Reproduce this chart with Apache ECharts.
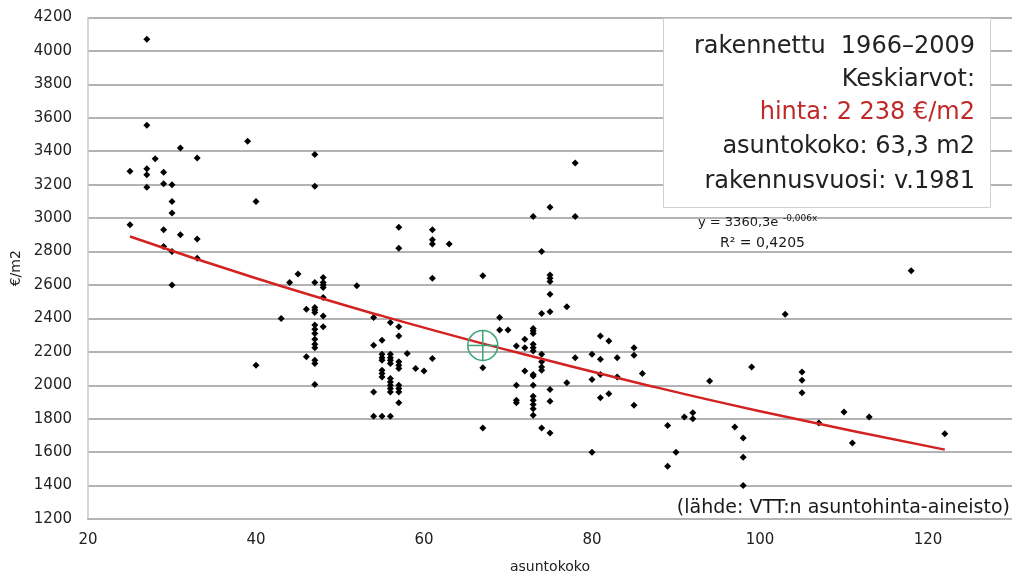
<!DOCTYPE html>
<html>
<head>
<meta charset="utf-8">
<script src="https://cdn.jsdelivr.net/npm/echarts@6/dist/echarts.min.js"></script>
<style>
html,body{margin:0;padding:0;background:#fff;}
#chart{width:1012px;height:579px;}
</style>
</head>
<body>
<div id="chart"></div>
<script>
// Apartment size (m2) and price (€/m2) per observation
const sizes = [
  25,25, 27,27,27,27,27, 28, 29,29,29,29, 30,30,30,30,30, 31,31, 33,33,33, 39, 40,40, 43, 44, 45, 46,46,
  47,47,47,47,47,47,47,47,47,47,47,47,47,47,47,
  48,48,48,48,48,48,48, 52,
  54,54,54,54, 55,55,55,55,55,55,55,55,
  56,56,56,56,56,56,56,56,56,56,56,
  57,57,57,57,57,57,57,57,57,57,57,
  58, 59, 60, 61,61,61,61,61, 63, 67,67,67, 69,69, 70, 71,71,71,71, 72,72,72,
  73,73,73,73,73,73,73,73,73,73,73,73,73,73,73,
  74,74,74,74,74,74,74, 75,75,75,75,75,75,75,75,75, 77,77, 78,78,78, 80,80,80,
  81,81,81,81, 82,82, 83,83, 85,85,85, 86, 89,89, 90, 91, 92,92, 94, 97, 98,98,98, 99,
  103, 105,105,105, 107, 110, 111, 113, 118, 122
];
const prices = [
  3280,2960, 4070,3555,3295,3260,3185, 3355, 3275,3205,2930,2830, 3200,3100,3030,2800,2600, 3420,2900, 3360,2875,2760, 3460, 3100,2120, 2400, 2615, 2665, 2455,2170,
  3380,3190,2615,2465,2450,2435,2360,2335,2310,2275,2245,2225,2150,2130,2005,
  2645,2615,2600,2585,2525,2415,2350, 2595,
  2405,2240,1960,1815, 2270,2185,2165,2150,2090,2070,2050,1815,
  2375,2185,2165,2150,2130,2040,2020,2000,1980,1960,1815,
  2945,2820,2350,2295,2140,2120,2100,2000,1980,1960,1895,
  2190, 2100, 2085, 2930,2870,2845,2640,2160, 2845, 2655,2105,1745, 2405,2330, 2330, 2235,2000,1910,1895, 2275,2225,2085,
  3010,2340,2325,2310,2245,2225,2205,2065,2055,2000,1935,1910,1885,1860,1820,
  2800,2430,2185,2140,2110,2090,1745, 3065,2660,2640,2620,2545,2440,1975,1905,1715, 2470,2015, 3330,3010,2165, 2185,2035,1600,
  2295,2155,2065,1925, 2265,1950, 2165,2050, 2225,2180,1880, 2070, 1760,1515, 1600, 1810, 1835,1800, 2025, 1750, 1685,1570,1400, 2110,
  2425, 2080,2030,1955, 1775, 1840, 1655, 1810, 2685, 1710
];
// Trend line
const trendX = [25, 40, 55, 70, 85, 100, 122];
const trendY = [2890, 2640, 2415, 2210, 2020, 1845, 1615];
// Mean marker
const meanPoint = [67, 2238];
// Axis settings
const xTicks = {min: 20, max: 130, interval: 20};
const yTicks = {min: 1200, max: 4200, interval: 200};
// Info box texts
const infoLines = ['rakennettu  1966–2009', 'Keskiarvot:', 'hinta: 2 238 €/m2', 'asuntokoko: 63,3 m2', 'rakennusvuosi: v.1981'];
const eqText = 'y = 3360,3e';
const eqExp = '-0,006x';
const r2Text = 'R² = 0,4205';
const sourceText = '(lähde: VTT:n asuntohinta-aineisto)';
const xName = 'asuntokoko';
const yName = '€/m2';

const FONT = 'DejaVu Sans';
const chart = echarts.init(document.getElementById('chart'), null, {renderer: 'canvas'});
const scatterData = sizes.map((s, i) => [s, prices[i]]);
const trendData = trendX.map((x, i) => [x, trendY[i]]);

const infoGraphics = [{
  type: 'rect', left: 663, top: 18, z: 10,
  shape: {width: 327, height: 189},
  style: {fill: '#fff', stroke: '#d0d0d0', lineWidth: 1}
}];
const lineY = [47, 80, 113, 147, 182];
infoLines.forEach((t, i) => {
  infoGraphics.push({
    type: 'text', z: 11, x: 975, y: lineY[i],
    style: {text: t, fontFamily: FONT, fontSize: 24, align: 'right', verticalAlign: 'middle',
      fill: i === 2 ? '#c0282a' : '#222'}
  });
});

const option = {
  backgroundColor: '#fff',
  animation: false,
  grid: {left: 88, right: 0, top: 17.5, bottom: 56, containLabel: false},
  xAxis: {
    type: 'value', min: xTicks.min, max: xTicks.max, interval: xTicks.interval,
    name: xName, nameLocation: 'middle', nameGap: 41,
    nameTextStyle: {fontFamily: FONT, fontSize: 14, color: '#222'},
    axisLine: {show: true, lineStyle: {color: '#b5b5b5', width: 2}},
    axisTick: {show: false},
    axisLabel: {fontFamily: FONT, fontSize: 15, color: '#222', margin: 14, showMaxLabel: false,
      formatter: v => String(v)},
    splitLine: {show: false}
  },
  yAxis: {
    type: 'value', min: yTicks.min, max: yTicks.max, interval: yTicks.interval,
    name: yName, nameLocation: 'middle', nameGap: 62, nameRotate: 90,
    nameTextStyle: {fontFamily: FONT, fontSize: 14, color: '#222'},
    axisLine: {show: true, lineStyle: {color: '#c8c8c8', width: 1.5}},
    axisTick: {show: false},
    axisLabel: {fontFamily: FONT, fontSize: 15, color: '#222', margin: 16,
      formatter: v => String(v)},
    splitLine: {show: true, lineStyle: {color: '#9a9a9a', width: 1.5}}
  },
  series: [
    {
      type: 'scatter', data: scatterData, symbol: 'diamond', symbolSize: 7,
      itemStyle: {color: '#000', opacity: 1}, z: 3, silent: true
    },
    {
      type: 'line', data: trendData, smooth: true, symbol: 'none',
      lineStyle: {color: '#d42222', width: 2.5}, z: 4, silent: true
    },
    {
      type: 'custom', z: 5, silent: true, data: [meanPoint],
      renderItem: function (params, api) {
        const c = api.coord([api.value(0), api.value(1)]);
        const r = 15;
        const st = {stroke: '#3aa577', lineWidth: 1.5, fill: null};
        return {
          type: 'group', children: [
            {type: 'circle', shape: {cx: c[0], cy: c[1], r: r}, style: st},
            {type: 'line', shape: {x1: c[0] - r, y1: c[1], x2: c[0] + r, y2: c[1]}, style: st},
            {type: 'line', shape: {x1: c[0], y1: c[1] - r, x2: c[0], y2: c[1] + r}, style: st}
          ]
        };
      }
    }
  ],
  graphic: infoGraphics.concat([
    {type: 'text', z: 11, x: 698, y: 223,
      style: {text: eqText, fontFamily: FONT, fontSize: 13, fill: '#1a1a1a', verticalAlign: 'middle'}},
    {type: 'text', z: 11, x: 783, y: 219,
      style: {text: eqExp, fontFamily: FONT, fontSize: 9, fill: '#1a1a1a', verticalAlign: 'middle'}},
    {type: 'text', z: 11, x: 720, y: 243,
      style: {text: r2Text, fontFamily: FONT, fontSize: 14, fill: '#1a1a1a', verticalAlign: 'middle'}},
    {type: 'text', z: 11, x: 1010, y: 508,
      style: {text: sourceText, fontFamily: FONT, fontSize: 19, fill: '#1a1a1a', align: 'right', verticalAlign: 'middle'}}
  ])
};
chart.setOption(option);
</script>
</body>
</html>
